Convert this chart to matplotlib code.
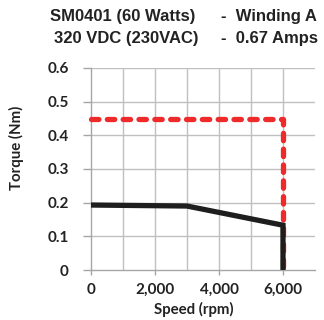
import matplotlib
matplotlib.use("Agg")
import matplotlib.pyplot as plt
from matplotlib.ticker import FuncFormatter, MultipleLocator

# Data
cont_speed = [0, 3000, 6000, 6000]
cont_torque = [0.193, 0.19, 0.133, 0.0]
peak_speed = [0, 6000, 6000]
peak_torque = [0.449, 0.449, 0.0]

title_left = ["SM0401 (60 Watts)", "320 VDC (230VAC)"]
title_right = ["-  Winding A", "-  0.67 Amps"]
xlabel = "Speed (rpm)"
ylabel = "Torque (Nm)"

W, H = 324, 320
fig = plt.figure(figsize=(W / 100, H / 100), dpi=100)
ax = fig.add_axes([91 / W, 1 - 270 / H, (315 - 91) / W, (270 - 68) / H])

ax.set_xlim(0, 7000)
ax.set_ylim(0, 0.6)
ax.xaxis.set_major_locator(MultipleLocator(2000))
ax.yaxis.set_major_locator(MultipleLocator(0.1))
ax.xaxis.set_major_formatter(FuncFormatter(lambda v, p: f"{int(round(v)):,}" if v <= 6000 else ""))
ax.yaxis.set_major_formatter(FuncFormatter(lambda v, p: "0" if abs(v) < 1e-9 else f"{v:.1f}"))

grid_c = "#c0c0c0"
for x in range(1000, 7000, 1000):
    ax.axvline(x, color=grid_c, lw=1.0, zorder=0)
for y in [0.1, 0.2, 0.3, 0.4, 0.5, 0.6]:
    ax.axhline(y, color=grid_c, lw=1.0, zorder=0)

for s in ["top", "right"]:
    ax.spines[s].set_visible(False)
for s in ["left", "bottom"]:
    ax.spines[s].set_color("#a6a6a6")
    ax.spines[s].set_linewidth(1.0)

ax.tick_params(axis="y", which="major", color="#a6a6a6", length=6, width=1, direction="out", pad=10)
ax.tick_params(axis="x", which="major", color="#a6a6a6", length=3.5, width=1, direction="out", pad=6)
for lab in ax.get_xticklabels() + ax.get_yticklabels():
    lab.set_fontfamily("Lato")
    lab.set_fontweight("bold")
    lab.set_fontsize(11)
    lab.set_color("#222222")

ax.plot(peak_speed, peak_torque, color="#ee2a2a", lw=3.8, dashes=(1.4, 1.6),
        solid_capstyle="round", dash_capstyle="round", zorder=3, clip_on=False)
ax.plot(cont_speed, cont_torque, color="#1e1e1e", lw=3.8, zorder=4,
        solid_capstyle="butt", solid_joinstyle="miter", clip_on=False)

fig.text(194 / W, 1 - 309 / H, xlabel, ha="center", va="center", fontfamily="Lato",
         fontweight="bold", fontsize=10.8, color="#222222")
fig.text(16 / W, 1 - 148 / H, ylabel, ha="center", va="center", rotation=90,
         fontfamily="Lato", fontweight="bold", fontsize=10.8, color="#222222")

tf = dict(fontfamily="Liberation Sans", fontweight="bold", fontsize=12, color="#222222", va="center")
ys = [16.5, 38.5]
xr = [195, 199]
for i in range(2):
    fig.text(xr[i] / W, 1 - ys[i] / H, title_left[i], ha="right", **tf)
    fig.text(221 / W, 1 - ys[i] / H, title_right[i], ha="left", **tf)

fig.savefig("out.png", dpi=100)
